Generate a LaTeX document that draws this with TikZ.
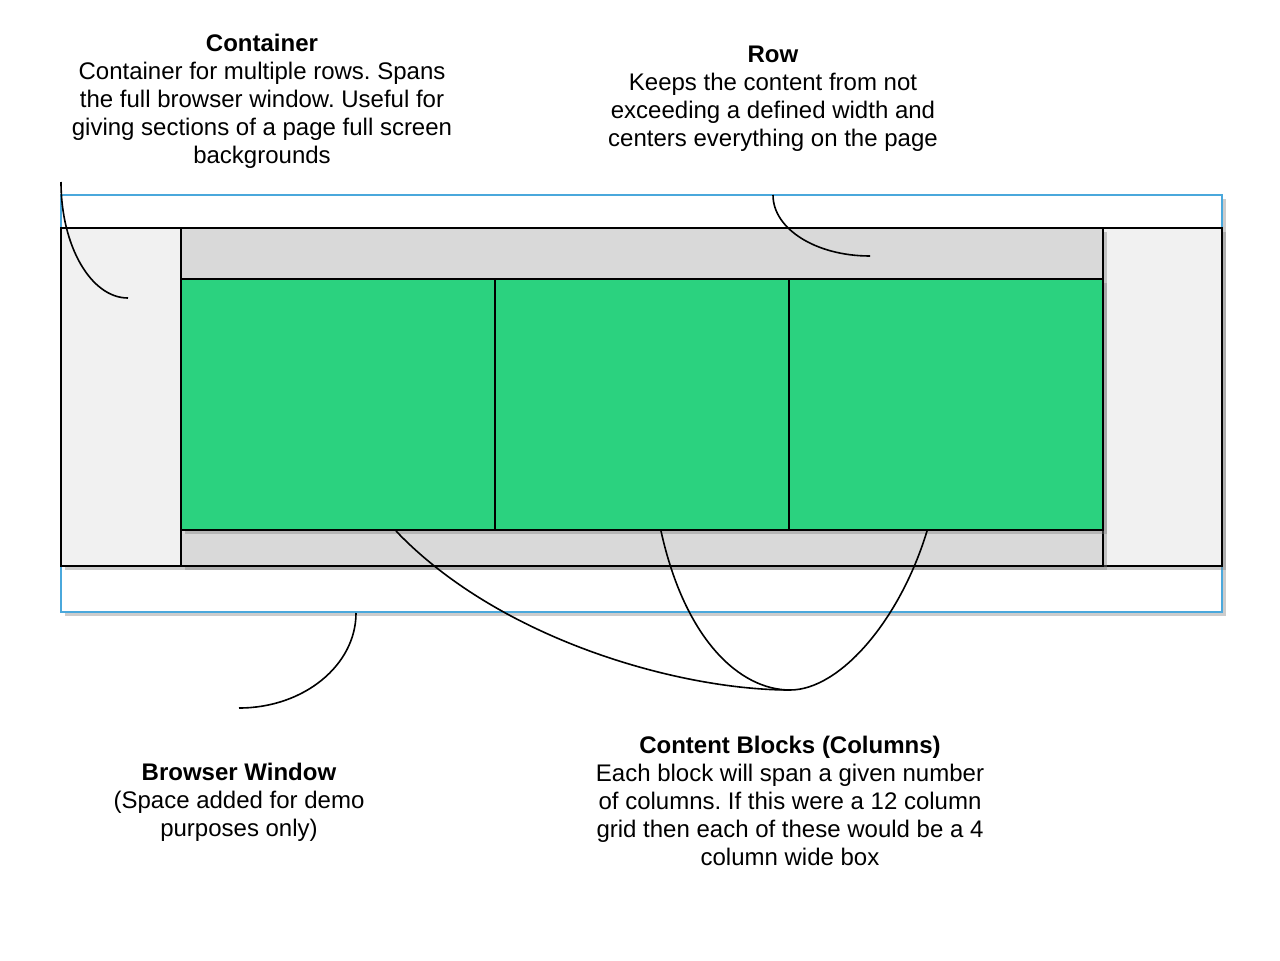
\documentclass[tikz,border=0pt]{standalone}
\usepackage{fontspec}
\setmainfont{Liberation Sans}
\usetikzlibrary{positioning,fit,shadows}
\definecolor{colgreen}{RGB}{43,210,127}
\definecolor{rowgray}{RGB}{217,217,217}
\definecolor{contgray}{RGB}{241,241,241}
\definecolor{winblue}{RGB}{74,168,220}
\frenchspacing

\begin{document}
\begin{tikzpicture}[x=0.75pt,y=-0.75pt,
  box/.style={draw,inner sep=0pt,line width=1.5pt},
  shade/.style={drop shadow={shadow xshift=3pt,shadow yshift=-3pt,opacity=0.4}},
  txt/.style={align=center,font=\fontsize{18}{21}\selectfont},
  callout/.style={line width=1.2pt}]
  \useasboundingbox (0,0) rectangle (1280,960);
  % boxes
  \node [box,draw=winblue,fill=white,shade,fit={(61,195) (1222,612)}] (window) {};
  \node [box,fill=contgray,shade,fit={(61,228) (1222,566)}] (container) {};
  \node [box,fill=rowgray,shade,fit={(181,228) (1103,566)}] (row) {};
  \node [box,fill=colgreen,shade,fit={(181,279) (495,530)}] (col1) {};
  \node [box,fill=colgreen,shade,fit={(495,279) (789,530)}] (col2) {};
  \node [box,fill=colgreen,shade,fit={(789,279) (1103,530)}] (col3) {};
  % labels
  \node [txt] (contLabel) at (262,101) {\textbf{Container}\\Container for multiple rows. Spans\\the full browser window. Useful for\\giving sections of a page full screen\\backgrounds};
  \node [txt] (rowLabel) at (773,99) {\textbf{Row}\\Keeps the content from not\\exceeding a defined width and\\centers everything on the page};
  \node [txt] (winLabel) at (239,802) {\textbf{Browser Window}\\(Space added for demo\\purposes only)};
  \node [txt] (colLabel) at (790,801) {\textbf{Content Blocks (Columns)}\\Each block will span a given number\\of columns. If this were a 12 column\\grid then each of these would be a 4\\column wide box};
  % callout ends
  \coordinate (contA) at (61,182);
  \coordinate (contB) at (128,298);
  \coordinate (rowA) at (773,195);
  \coordinate (rowB) at (870,256);
  \coordinate (winA) at (356,613);
  \coordinate (winB) at (239,708);
  \coordinate (colA) at (396,531);
  \coordinate (colB) at (661,531);
  \coordinate (colC) at (927,531);
  \coordinate (colJoin) at (790,690);
  \draw [callout] (contA) .. controls (61,246) and (91,298) .. (contB);
  \draw [callout] (rowA) .. controls (773,229) and (816,256) .. (rowB);
  \draw [callout] (winA) .. controls (356,665) and (304,708) .. (winB);
  \draw [callout] (colA) .. controls (500,640) and (680,690) .. (colJoin);
  \draw [callout] (colB) .. controls (685,640) and (740,690) .. (colJoin);
  \draw [callout] (colC) .. controls (900,620) and (840,690) .. (colJoin);
\end{tikzpicture}
\end{document}
